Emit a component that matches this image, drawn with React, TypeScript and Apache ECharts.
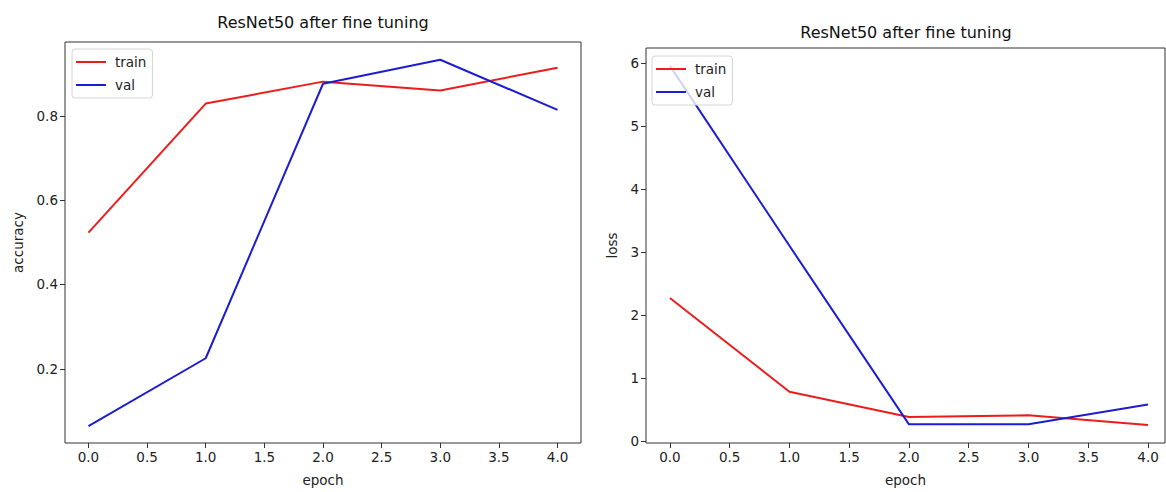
import React, { useEffect, useRef } from "react";
import * as echarts from "echarts";

const epochs = [0, 1, 2, 3, 4];
const accTrain = [0.523, 0.829, 0.881, 0.86, 0.914];
const accVal = [0.064, 0.225, 0.876, 0.933, 0.814];
const lossTrain = [2.27, 0.78, 0.38, 0.405, 0.253];
const lossVal = [5.96, 3.1, 0.262, 0.262, 0.578];
const xTicks = [0, 0.5, 1, 1.5, 2, 2.5, 3, 3.5, 4];
const accTicks = [0.2, 0.4, 0.6, 0.8];
const lossTicks = [0, 1, 2, 3, 4, 5, 6];
const titleText = "ResNet50 after fine tuning";
const seriesNames = ["train", "val"];

const RED = "#ec1c1c";
const BLUE = "#1c1cd0";
const FONT = "DejaVu Sans";

const pairs = (xs: number[], ys: number[]) => xs.map((x, i) => [x, ys[i]]);

export default function App() {
  const ref = useRef<HTMLDivElement>(null);
  useEffect(() => {
    if (!ref.current) return;
    const chart = echarts.init(ref.current, undefined, { renderer: "svg" });
    const axisCommon = {
      type: "value" as const,
      splitLine: { show: false },
      axisLine: { show: false, onZero: false },
      axisTick: { show: true, length: 5, lineStyle: { color: "#333", width: 1 } },
      axisLabel: { color: "#222", fontSize: 13.5, fontFamily: FONT, margin: 7 },
      nameTextStyle: { color: "#222", fontSize: 13.5, fontFamily: FONT },
    };
    const xAxis = (idx: number, max: number) => ({
      ...axisCommon,
      gridIndex: idx,
      min: -0.2,
      max,
      name: "epoch",
      nameLocation: "middle",
      nameGap: 30,
      axisTick: { ...axisCommon.axisTick, customValues: xTicks },
      axisLabel: {
        ...axisCommon.axisLabel,
        customValues: xTicks,
        formatter: (v: number) => v.toFixed(1),
      },
    });
    const legend = (left: number, top: number) => ({
      orient: "vertical",
      left,
      top,
      data: seriesNames,
      icon: "rect",
      itemWidth: 30,
      itemHeight: 2,
      itemGap: 9,
      backgroundColor: "rgba(255,255,255,0.8)",
      borderColor: "#d4d4d4",
      borderWidth: 1,
      borderRadius: 3,
      padding: [6, 6, 6, 4],
      textStyle: { color: "#222", fontSize: 13.5, fontFamily: FONT, padding: [0, 0, 0, 4] },
    });
    const line = (name: string, color: string, data: number[][], idx: number) => ({
      type: "line",
      name,
      data,
      xAxisIndex: idx,
      yAxisIndex: idx,
      symbol: "none",
      lineStyle: { color, width: 2 },
      itemStyle: { color },
      z: 3,
    });
    chart.setOption({
      animation: false,
      textStyle: { fontFamily: FONT },
      grid: [
        { left: 65, top: 42, width: 516, height: 401, show: true, borderColor: "#333", borderWidth: 1, backgroundColor: "transparent" },
        { left: 646, top: 48, width: 519, height: 398, show: true, borderColor: "#333", borderWidth: 1, backgroundColor: "transparent" },
      ],
      xAxis: [xAxis(0, 4.2), xAxis(1, 4.142)],
      yAxis: [
        {
          ...axisCommon,
          gridIndex: 0,
          min: 0.024,
          max: 0.975,
          name: "accuracy",
          nameLocation: "middle",
          nameGap: 40,
          axisTick: { ...axisCommon.axisTick, customValues: accTicks },
          axisLabel: { ...axisCommon.axisLabel, customValues: accTicks, formatter: (v: number) => v.toFixed(1) },
        },
        {
          ...axisCommon,
          gridIndex: 1,
          min: -0.035,
          max: 6.245,
          name: "loss",
          nameLocation: "middle",
          nameGap: 27,
          axisTick: { ...axisCommon.axisTick, customValues: lossTicks },
          axisLabel: { ...axisCommon.axisLabel, customValues: lossTicks, formatter: (v: number) => String(v) },
        },
      ],
      legend: [legend(72, 49), legend(652, 56)],
      graphic: [
        { type: "text", x: 323, y: 22, style: { text: titleText, font: `16px "${FONT}"`, fill: "#111", textAlign: "center", textVerticalAlign: "middle" } },
        { type: "text", x: 906, y: 32, style: { text: titleText, font: `16px "${FONT}"`, fill: "#111", textAlign: "center", textVerticalAlign: "middle" } },
      ],
      series: [
        line("train", RED, pairs(epochs, accTrain), 0),
        line("val", BLUE, pairs(epochs, accVal), 0),
        line("train", RED, pairs(epochs, lossTrain), 1),
        line("val", BLUE, pairs(epochs, lossVal), 1),
      ],
    });
    return () => chart.dispose();
  }, []);
  return (
    <div
      ref={ref}
      style={{ position: "absolute", left: 0, top: 0, width: 1166, height: 492, background: "#fff" }}
    />
  );
}
